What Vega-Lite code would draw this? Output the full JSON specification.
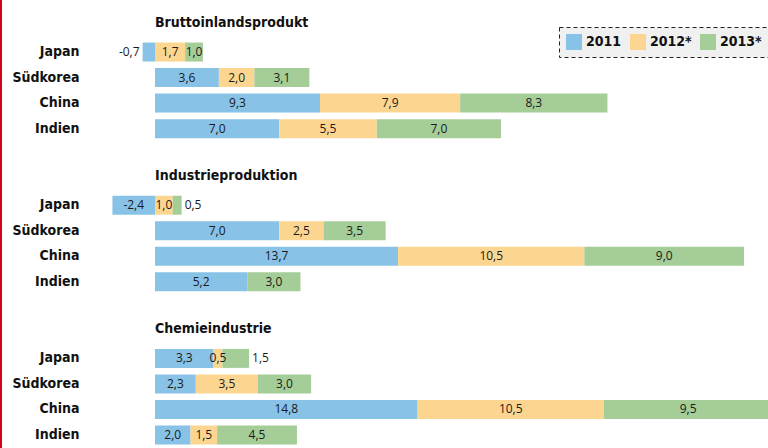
{
  "$schema": "https://vega.github.io/schema/vega-lite/v6.json",
  "width": 768,
  "height": 448,
  "autosize": {"type": "none"},
  "padding": 0,
  "background": "white",
  "config": {
    "view": {"stroke": null},
    "locale": {"number": {"decimal": ",", "thousands": ".", "grouping": [3], "currency": ["", " €"], "minus": "-"}}
  },
  "datasets": {
    "werte": [
      {"gruppe": "Bruttoinlandsprodukt", "land": "Japan", "jahr": "2011", "wert": -0.7},
      {"gruppe": "Bruttoinlandsprodukt", "land": "Japan", "jahr": "2012*", "wert": 1.7},
      {"gruppe": "Bruttoinlandsprodukt", "land": "Japan", "jahr": "2013*", "wert": 1.0},
      {"gruppe": "Bruttoinlandsprodukt", "land": "Südkorea", "jahr": "2011", "wert": 3.6},
      {"gruppe": "Bruttoinlandsprodukt", "land": "Südkorea", "jahr": "2012*", "wert": 2.0},
      {"gruppe": "Bruttoinlandsprodukt", "land": "Südkorea", "jahr": "2013*", "wert": 3.1},
      {"gruppe": "Bruttoinlandsprodukt", "land": "China", "jahr": "2011", "wert": 9.3},
      {"gruppe": "Bruttoinlandsprodukt", "land": "China", "jahr": "2012*", "wert": 7.9},
      {"gruppe": "Bruttoinlandsprodukt", "land": "China", "jahr": "2013*", "wert": 8.3},
      {"gruppe": "Bruttoinlandsprodukt", "land": "Indien", "jahr": "2011", "wert": 7.0},
      {"gruppe": "Bruttoinlandsprodukt", "land": "Indien", "jahr": "2012*", "wert": 5.5},
      {"gruppe": "Bruttoinlandsprodukt", "land": "Indien", "jahr": "2013*", "wert": 7.0},
      {"gruppe": "Industrieproduktion", "land": "Japan", "jahr": "2011", "wert": -2.4},
      {"gruppe": "Industrieproduktion", "land": "Japan", "jahr": "2012*", "wert": 1.0},
      {"gruppe": "Industrieproduktion", "land": "Japan", "jahr": "2013*", "wert": 0.5},
      {"gruppe": "Industrieproduktion", "land": "Südkorea", "jahr": "2011", "wert": 7.0},
      {"gruppe": "Industrieproduktion", "land": "Südkorea", "jahr": "2012*", "wert": 2.5},
      {"gruppe": "Industrieproduktion", "land": "Südkorea", "jahr": "2013*", "wert": 3.5},
      {"gruppe": "Industrieproduktion", "land": "China", "jahr": "2011", "wert": 13.7},
      {"gruppe": "Industrieproduktion", "land": "China", "jahr": "2012*", "wert": 10.5},
      {"gruppe": "Industrieproduktion", "land": "China", "jahr": "2013*", "wert": 9.0},
      {"gruppe": "Industrieproduktion", "land": "Indien", "jahr": "2011", "wert": 5.2},
      {"gruppe": "Industrieproduktion", "land": "Indien", "jahr": "2013*", "wert": 3.0},
      {"gruppe": "Chemieindustrie", "land": "Japan", "jahr": "2011", "wert": 3.3},
      {"gruppe": "Chemieindustrie", "land": "Japan", "jahr": "2012*", "wert": 0.5},
      {"gruppe": "Chemieindustrie", "land": "Japan", "jahr": "2013*", "wert": 1.5},
      {"gruppe": "Chemieindustrie", "land": "Südkorea", "jahr": "2011", "wert": 2.3},
      {"gruppe": "Chemieindustrie", "land": "Südkorea", "jahr": "2012*", "wert": 3.5},
      {"gruppe": "Chemieindustrie", "land": "Südkorea", "jahr": "2013*", "wert": 3.0},
      {"gruppe": "Chemieindustrie", "land": "China", "jahr": "2011", "wert": 14.8},
      {"gruppe": "Chemieindustrie", "land": "China", "jahr": "2012*", "wert": 10.5},
      {"gruppe": "Chemieindustrie", "land": "China", "jahr": "2013*", "wert": 9.5},
      {"gruppe": "Chemieindustrie", "land": "Indien", "jahr": "2011", "wert": 2.0},
      {"gruppe": "Chemieindustrie", "land": "Indien", "jahr": "2012*", "wert": 1.5},
      {"gruppe": "Chemieindustrie", "land": "Indien", "jahr": "2013*", "wert": 4.5}
    ],
    "titel": [
      {"gruppe": "Bruttoinlandsprodukt"},
      {"gruppe": "Industrieproduktion"},
      {"gruppe": "Chemieindustrie"}
    ]
  },
  "encoding": {
    "y": {
      "field": "row",
      "type": "nominal",
      "scale": {
        "domain": [
          "Bruttoinlandsprodukt|", "Bruttoinlandsprodukt|Japan", "Bruttoinlandsprodukt|Südkorea", "Bruttoinlandsprodukt|China", "Bruttoinlandsprodukt|Indien",
          "leer1|",
          "Industrieproduktion|", "Industrieproduktion|Japan", "Industrieproduktion|Südkorea", "Industrieproduktion|China", "Industrieproduktion|Indien",
          "leer2|",
          "Chemieindustrie|", "Chemieindustrie|Japan", "Chemieindustrie|Südkorea", "Chemieindustrie|China", "Chemieindustrie|Indien"
        ],
        "range": [13.5, 448],
        "paddingInner": 0.256,
        "paddingOuter": 0.138
      },
      "axis": {
        "title": null,
        "orient": "left",
        "offset": -85,
        "domain": false,
        "ticks": false,
        "grid": false,
        "labelPadding": 6,
        "labelExpr": "split(datum.value, '|')[1]",
        "labelFont": "DejaVu Sans Condensed",
        "labelFontWeight": "bold",
        "labelFontSize": 14,
        "labelColor": "#111111"
      }
    }
  },
  "layer": [
    {
      "data": {"name": "werte"},
      "transform": [{"calculate": "datum.gruppe + '|' + datum.land", "as": "row"}],
      "mark": {"type": "bar", "clip": true},
      "encoding": {
        "x": {
          "field": "wert",
          "type": "quantitative",
          "stack": "zero",
          "scale": {"domain": [-8.737, 34.55], "nice": false, "zero": false},
          "axis": null
        },
        "order": {"field": "jahr"},
        "color": {
          "field": "jahr",
          "type": "nominal",
          "scale": {"domain": ["2011", "2012*", "2013*"], "range": ["#88c2e6", "#fcd691", "#a4cd98"]},
          "legend": {
            "title": null,
            "orient": "none",
            "legendX": 559,
            "legendY": 27,
            "direction": "horizontal",
            "fillColor": "#f0f0f0",
            "strokeColor": "#222222",
            "padding": 7,
            "symbolType": "square",
            "symbolSize": 256,
            "symbolStrokeWidth": 0,
            "symbolOpacity": 1,
            "labelFont": "DejaVu Sans Condensed",
            "labelFontWeight": "bold",
            "labelFontSize": 14,
            "labelColor": "#111111",
            "labelOffset": 4,
            "columnPadding": 8,
            "encode": {"legend": {"update": {"strokeDash": {"value": [4, 3]}}}}
          }
        }
      }
    },
    {
      "data": {"name": "werte"},
      "transform": [
        {"calculate": "datum.gruppe + '|' + datum.land", "as": "row"},
        {"stack": "wert", "groupby": ["row"], "sort": [{"field": "jahr"}], "as": ["x0", "x1"]},
        {"calculate": "(datum.x0 + datum.x1) / 2", "as": "mitte"},
        {"calculate": "datum.land == 'Japan' && ((datum.gruppe == 'Bruttoinlandsprodukt' && datum.wert < 0) || (datum.gruppe != 'Bruttoinlandsprodukt' && datum.jahr == '2013*')) ? 'aussen' : 'innen'", "as": "lage"},
        {"filter": "datum.lage == 'innen'"}
      ],
      "mark": {"type": "text", "font": "Open Sans", "fontSize": 12, "color": "#1a1a1a", "baseline": "middle", "align": "center"},
      "encoding": {
        "x": {"field": "mitte", "type": "quantitative"},
        "text": {"field": "wert", "type": "quantitative", "format": ".1f"}
      }
    },
    {
      "data": {"name": "werte"},
      "transform": [
        {"calculate": "datum.gruppe + '|' + datum.land", "as": "row"},
        {"stack": "wert", "groupby": ["row"], "sort": [{"field": "jahr"}], "as": ["x0", "x1"]},
        {"calculate": "datum.land == 'Japan' && ((datum.gruppe == 'Bruttoinlandsprodukt' && datum.wert < 0) || (datum.gruppe != 'Bruttoinlandsprodukt' && datum.jahr == '2013*')) ? 'aussen' : 'innen'", "as": "lage"},
        {"filter": "datum.lage == 'aussen' && datum.wert < 0"},
        {"calculate": "min(datum.x0, datum.x1)", "as": "ende"}
      ],
      "mark": {"type": "text", "font": "Open Sans", "fontSize": 12, "color": "#1a1a1a", "baseline": "middle", "align": "right", "dx": -3},
      "encoding": {
        "x": {"field": "ende", "type": "quantitative"},
        "text": {"field": "wert", "type": "quantitative", "format": ".1f"}
      }
    },
    {
      "data": {"name": "werte"},
      "transform": [
        {"calculate": "datum.gruppe + '|' + datum.land", "as": "row"},
        {"stack": "wert", "groupby": ["row"], "sort": [{"field": "jahr"}], "as": ["x0", "x1"]},
        {"calculate": "datum.land == 'Japan' && ((datum.gruppe == 'Bruttoinlandsprodukt' && datum.wert < 0) || (datum.gruppe != 'Bruttoinlandsprodukt' && datum.jahr == '2013*')) ? 'aussen' : 'innen'", "as": "lage"},
        {"filter": "datum.lage == 'aussen' && datum.wert >= 0"},
        {"calculate": "max(datum.x0, datum.x1)", "as": "ende"}
      ],
      "mark": {"type": "text", "font": "Open Sans", "fontSize": 12, "color": "#1a1a1a", "baseline": "middle", "align": "left", "dx": 3},
      "encoding": {
        "x": {"field": "ende", "type": "quantitative"},
        "text": {"field": "wert", "type": "quantitative", "format": ".1f"}
      }
    },
    {
      "data": {"name": "titel"},
      "transform": [{"calculate": "datum.gruppe + '|'", "as": "row"}],
      "mark": {"type": "text", "font": "DejaVu Sans Condensed", "fontWeight": "bold", "fontSize": 14, "color": "#111111", "baseline": "middle", "align": "left", "dy": -4},
      "encoding": {
        "x": {"datum": 0, "type": "quantitative"},
        "text": {"field": "gruppe"}
      }
    },
    {
      "data": {"values": [{"rand": -8.68}]},
      "mark": {"type": "rule", "color": "#d0021b", "strokeWidth": 2},
      "encoding": {
        "x": {"field": "rand", "type": "quantitative"},
        "y": null
      }
    }
  ]
}
